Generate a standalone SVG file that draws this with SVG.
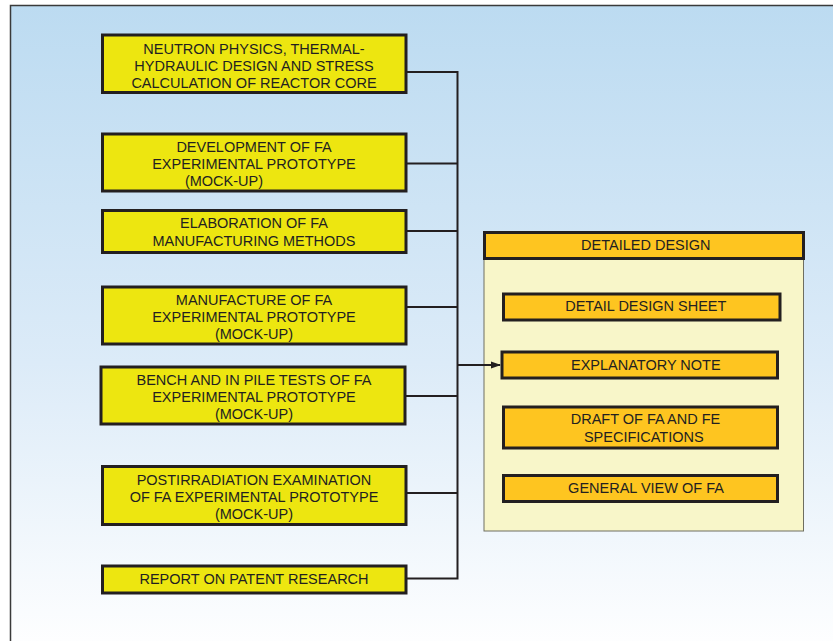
<svg xmlns="http://www.w3.org/2000/svg" width="833" height="641" viewBox="0 0 833 641">
<defs>
<linearGradient id="bg" x1="0" y1="0" x2="0" y2="1">
<stop offset="0" stop-color="#bcdbf1"/>
<stop offset="0.55" stop-color="#dcebf8"/>
<stop offset="1" stop-color="#ffffff"/>
</linearGradient>
<marker id="arr" markerWidth="10" markerHeight="8" refX="9" refY="4" orient="auto" markerUnits="userSpaceOnUse">
<path d="M0,0.5 L10,4 L0,7.5 Z" fill="#231f20"/>
</marker>
<style>
.y{fill:#ede610;stroke:#231f20;stroke-width:3}
.o{fill:#fec520;stroke:#231f20;stroke-width:3}
.t{font-family:"Liberation Sans",Arial,sans-serif;font-size:14.5px;fill:#231f20;text-anchor:middle}
.c{fill:none;stroke:#231f20;stroke-width:2}
</style>
</defs>
<rect x="10.5" y="5.5" width="840" height="650" fill="url(#bg)" stroke="#3a3a3a" stroke-width="1.5"/>
<g id="n1"><rect class="y" x="102.5" y="35" width="303.5" height="57.5"/>
<text class="t" x="254" y="53.5">NEUTRON PHYSICS, THERMAL-</text>
<text class="t" x="254" y="70.7">HYDRAULIC DESIGN AND STRESS</text>
<text class="t" x="254" y="88">CALCULATION OF REACTOR CORE</text></g>
<g id="n2"><rect class="y" x="102.5" y="134" width="303.5" height="57"/>
<text class="t" x="254" y="152.3">DEVELOPMENT OF FA</text>
<text class="t" x="254" y="169.3">EXPERIMENTAL PROTOTYPE</text>
<text class="t" x="224" y="186">(MOCK-UP)</text></g>
<g id="n3"><rect class="y" x="102.5" y="210.5" width="303.5" height="42"/>
<text class="t" x="254" y="228.3">ELABORATION OF FA</text>
<text class="t" x="254" y="245.7">MANUFACTURING METHODS</text></g>
<g id="n4"><rect class="y" x="102.5" y="287" width="303.5" height="57"/>
<text class="t" x="254" y="305">MANUFACTURE OF FA</text>
<text class="t" x="254" y="321.7">EXPERIMENTAL PROTOTYPE</text>
<text class="t" x="254" y="339">(MOCK-UP)</text></g>
<g id="n5"><rect class="y" x="101" y="367" width="304" height="57"/>
<text class="t" x="254" y="385.3">BENCH AND IN PILE TESTS OF FA</text>
<text class="t" x="254" y="402">EXPERIMENTAL PROTOTYPE</text>
<text class="t" x="254" y="419.3">(MOCK-UP)</text></g>
<g id="n6"><rect class="y" x="102.5" y="466.5" width="303.5" height="58"/>
<text class="t" x="254" y="485">POSTIRRADIATION EXAMINATION</text>
<text class="t" x="254" y="502.3">OF FA EXPERIMENTAL PROTOTYPE</text>
<text class="t" x="254" y="519.3">(MOCK-UP)</text></g>
<g id="n7"><rect class="y" x="102.5" y="566" width="303.5" height="27"/>
<text class="t" x="254" y="584">REPORT ON PATENT RESEARCH</text></g>
<g id="detailed-design">
<rect x="484" y="259" width="319.5" height="272" fill="#f8f6c9" stroke="#6e6e60" stroke-width="1"/>
<rect class="o" x="484.5" y="232.5" width="319" height="26"/>
<text class="t" x="645.8" y="250">DETAILED DESIGN</text>
</g>
<g id="d1"><rect class="o" x="503.5" y="294" width="276.5" height="26"/>
<text class="t" x="645.8" y="311">DETAIL DESIGN SHEET</text></g>
<g id="d2"><rect class="o" x="502" y="352" width="275.5" height="26"/>
<text class="t" x="645.8" y="370">EXPLANATORY NOTE</text></g>
<g id="d3"><rect class="o" x="503.5" y="407" width="274" height="41"/>
<text class="t" x="645.5" y="424">DRAFT OF FA AND FE</text>
<text class="t" x="643.8" y="442">SPECIFICATIONS</text></g>
<g id="d4"><rect class="o" x="503.5" y="475.5" width="274" height="26"/>
<text class="t" x="646" y="493.3">GENERAL VIEW OF FA</text></g>
<g id="connectors">
<path class="c" d="M406,72 H457.5 V578.5 H406"/>
<path class="c" d="M406,163.5 H457.5 M406,231 H457.5 M406,307 H457.5 M405,396 H457.5 M406,493 H457.5"/>
<path class="c" d="M457.5,365 H500" marker-end="url(#arr)"/>
</g>
</svg>
